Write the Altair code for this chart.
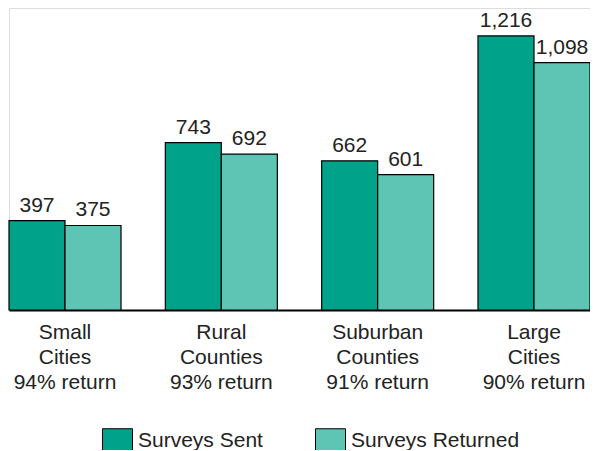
import altair as alt
import pandas as pd

categories = ["Small|Cities|94% return", "Rural|Counties|93% return",
              "Suburban|Counties|91% return", "Large|Cities|90% return"]
series = ["Surveys Sent", "Surveys Returned"]
sent = [397, 743, 662, 1216]
returned = [375, 692, 601, 1098]

rows = []
for c, s, r in zip(categories, sent, returned):
    rows.append({"cat": c, "series": series[0], "value": s})
    rows.append({"cat": c, "series": series[1], "value": r})
df = pd.DataFrame(rows)

FONT = "Liberation Sans"
FS = 21
TXT = "#222222"
colors = ["#00a38a", "#5ec4b4"]
ydom = [0, 1340]

base = alt.Chart(df).encode(
    x=alt.X("cat:N", sort=categories,
            scale=alt.Scale(paddingInner=0.2835, paddingOuter=0),
            axis=alt.Axis(title=None, labelExpr="split(datum.label, '|')",
                          labelAngle=0, labelFontSize=FS, labelFont=FONT,
                          labelColor=TXT, labelLineHeight=25,
                          labelPadding=28, ticks=False, domainColor="black",
                          domainWidth=2, labelBaseline="alphabetic")),
    xOffset=alt.XOffset("series:N", sort=series),
)

bars = base.mark_bar(stroke="black", strokeWidth=1.2).encode(
    y=alt.Y("value:Q", scale=alt.Scale(domain=ydom), axis=None),
    color=alt.Color("series:N", sort=series,
                    scale=alt.Scale(domain=series, range=colors),
                    legend=alt.Legend(title=None, orient="none", direction="horizontal",
                                      legendX=93, legendY=417,
                                      symbolType="M-1,-0.8H1V2H-1Z",
                                      symbolSize=900, symbolStrokeColor="black",
                                      symbolStrokeWidth=1, symbolOpacity=1,
                                      labelFontSize=FS, labelFont=FONT,
                                      labelColor=TXT, labelOffset=5,
                                      labelLimit=0, columnPadding=50)),
)

labels = base.mark_text(baseline="alphabetic", dy=-9, fontSize=FS, font=FONT,
                        color=TXT).encode(
    y=alt.Y("value:Q", scale=alt.Scale(domain=ydom)),
    text=alt.Text("value:Q", format=","),
)

chart = alt.layer(bars, labels).properties(
    width=581, height=302,
    padding={"left": 1, "top": 0, "right": 0, "bottom": 140},
    autosize=alt.AutoSizeParams(type="none"),
).configure_view(stroke=None).configure(background="white")

chart.save("out.html", embed_options={"renderer": "svg", "actions": False})
